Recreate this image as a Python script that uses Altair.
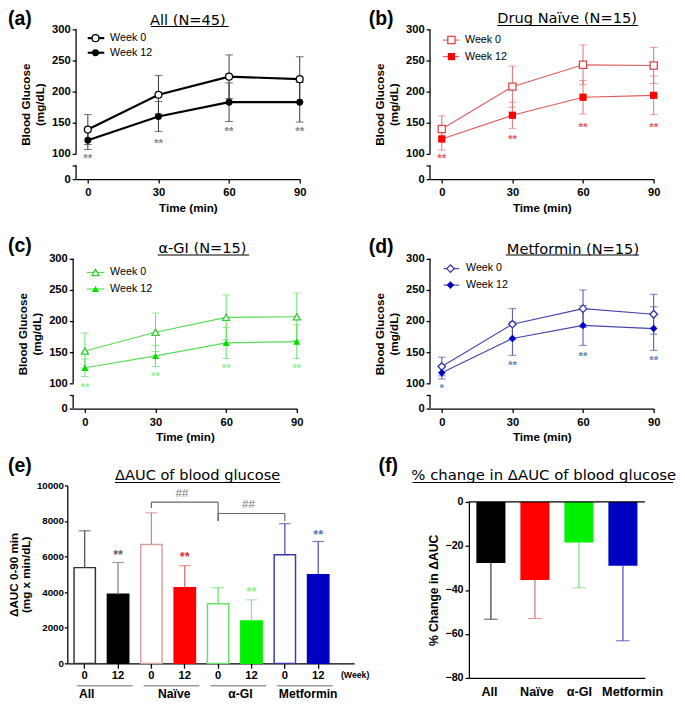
import altair as alt
import pandas as pd

FONT = "Liberation Sans"
TFONT = "DejaVu Sans"

# ---------------- data: panels (a)-(d) ----------------
TIMES = [0, 30, 60, 90]
SERIES = ["Week  0", "Week 12"]

A_W0 = [139, 195, 224, 220]
A_W0_SD = [24, 31, 35, 36]
A_W12 = [122, 160, 183, 183]
A_W12_SD = [15, 24, 31, 32]
A_STARS = ["**", "**", "**", "**"]
A_STAR_Y = [95, 122, 141, 141]

B_W0 = [140, 208, 243, 242]
B_W0_SD = [21, 33, 32, 29]
B_W12 = [124, 162, 191, 194]
B_W12_SD = [18, 21, 27, 31]
B_STARS = ["**", "**", "**", "**"]
B_STAR_Y = [95, 129, 148, 148]

C_W0 = [152, 182, 206, 207]
C_W0_SD = [29, 31, 36, 38]
C_W12 = [125, 144, 165, 167]
C_W12_SD = [14, 17, 25, 27]
C_STARS = ["**", "**", "**", "**"]
C_STAR_Y = [95, 116, 129, 129]

D_W0 = [127, 195, 220, 211]
D_W0_SD = [15, 25, 30, 32]
D_W12 = [117, 172, 193, 188]
D_W12_SD = [10, 27, 32, 35]
D_STARS = ["*", "**", "**", "**"]
D_STAR_Y = [94, 134, 148, 142]

BREAK_LO = [0, 100]
BREAK_HI = [54, 300]
Y_TICKS = [0, 54, 100, 150, 200, 250, 300]

# ---------------- data: panel (e) ----------------
GROUPS = ["All", "Naïve", "α-GI", "Metformin"]
WEEKS = ["0", "12"]
E_W0 = [5380, 6680, 3350, 6100]
E_W0_SD = [2070, 1780, 900, 1750]
E_W12 = [3880, 4250, 2380, 4980]
E_W12_SD = [1790, 1240, 1190, 1870]
E_STAR_Y = [6230, 6120, 4190, 7360]
E_TICKS = [0, 2000, 4000, 6000, 8000, 10000]
BR_FROM = ["Naïve", "α-GI"]
BR_TO = ["α-GI", "Metformin"]
BR_Y = [9060, 8420]
BR_LEFT_END = [8730, 8000]
BR_RIGHT_END = [8000, 8000]
BR_TEXT = ["##", "##"]
BR_TEXT_AT = ["Naïve", "α-GI"]
BR_TEXT_Y = [9590, 8970]

# ---------------- data: panel (f) ----------------
F_MEAN = [-27.7, -35.5, -18.4, -29.0]
F_SD = [25.6, 17.5, 20.6, 34.1]
F_TICKS = [0, -20, -40, -60, -80]

# ---------------- styles ----------------
E_FILL12 = ["#000000", "#ff0000", "#00f000", "#0000c0"]
E_EDGE0 = ["#333333", "#d9a0a0", "#66e066", "#3a3aa8"]
E_ERR0 = ["#444444", "#d08080", "#66dd66", "#4040aa"]
E_ERR12 = ["#777777", "#d86060", "#88e088", "#4444aa"]
E_STARC = ["#666666", "#e03030", "#90ee90", "#5577bb"]
F_ERR = ["#333333", "#d07070", "#77e077", "#4444aa"]
E_GROUP_DX = [2, 23.5, 23, 24]
F_LABEL_DX = [-1.5, 2, 0.5, 10]


def ptext(s, x, y, size, weight="normal", font=FONT, align="left",
          baseline="top", color="black"):
    return alt.Chart(pd.DataFrame({"s": [s]})).mark_text(
        align=align, baseline=baseline, font=font, fontSize=size,
        fontWeight=weight, color=color
    ).encode(x=alt.value(x), y=alt.value(y), text="s:N")


def prule(x1, x2, y, color="black", width=1.2):
    return alt.Chart(pd.DataFrame({"a": [0]})).mark_rule(
        color=color, strokeWidth=width
    ).encode(x=alt.value(x1), x2=alt.value(x2), y=alt.value(y))


def line_panel(P):
    sh = P.get("sh", 0)
    W, H = 230 - sh, 154
    xs = alt.Scale(domain=[-5, 90], range=[-sh, W], nice=False, zero=False)
    ys = alt.Scale(domain=[0, 100, 300], range=[H, H - 26, 0], nice=False, zero=False)
    xax = alt.Axis(values=TIMES, title="Time (min)", grid=False, tickSize=4,
                   tickWidth=1.3, tickColor="black", domainColor="black",
                   domainWidth=1.3, labelFont=FONT, labelFontSize=11.5,
                   labelFontWeight="bold", labelColor="black", labelPadding=4,
                   labelFlush=False, titleFont=FONT, titleFontSize=12,
                   titleFontWeight="bold", titleColor="black", titlePadding=4.5)
    yax = alt.Axis(values=Y_TICKS, labelExpr="datum.value == 54 ? '' : datum.label",
                   title=["Blood Glucose", "(mg/dL)"], grid=False, domain=False,
                   offset=sh,
                   tickSize=4, tickWidth=1.3, tickColor="black", labelFont=FONT,
                   labelFontSize=11.5, labelFontWeight="bold", labelColor="black",
                   labelPadding=2, labelOverlap=False, labelFlush=False,
                   titleFont=FONT, titleFontSize=12, titleFontWeight="bold",
                   titleColor="black", titleLineHeight=15, titlePadding=5)

    def X(f):
        return alt.X(f"{f}:Q", scale=xs, axis=xax)

    def Y(f):
        return alt.Y(f"{f}:Q", scale=ys, axis=yax)

    brk = pd.DataFrame({"lo": BREAK_LO, "hi": BREAK_HI})
    axis_line = alt.Chart(brk).mark_rule(color="black", strokeWidth=1.3).encode(
        x=alt.value(-sh), y=Y("lo"), y2="hi:Q")

    rows = []
    for s, m, sd in ((0, P["w0"], P["w0sd"]), (1, P["w12"], P["w12sd"])):
        for t, v, e in zip(TIMES, m, sd):
            rows.append({"s": s, "t": t, "v": v, "lo": v - e, "hi": v + e})
    df = pd.DataFrame(rows)
    caps = pd.concat([df[["t", "lo"]].rename(columns={"lo": "v"}),
                      df[["t", "hi"]].rename(columns={"hi": "v"})])

    err = alt.Chart(df).mark_rule(color=P["err"], strokeWidth=1).encode(
        x=X("t"), y=Y("lo"), y2="hi:Q")
    cap = alt.Chart(caps).mark_tick(orient="horizontal", size=8, thickness=1,
                                    color=P["err"]).encode(x=X("t"), y=Y("v"))
    d0 = df[df.s == 0]
    d1 = df[df.s == 1]
    l0 = alt.Chart(d0).mark_line(color=P["line"], strokeWidth=P["lw"]).encode(x=X("t"), y=Y("v"))
    l1 = alt.Chart(d1).mark_line(color=P["line"], strokeWidth=P["lw"]).encode(x=X("t"), y=Y("v"))
    p0 = alt.Chart(d0).mark_point(shape=P["shape"], filled=True, fill="white",
                                  stroke=P["mk0"], strokeWidth=1.3, size=P["size"],
                                  opacity=1).encode(x=X("t"), y=Y("v"))
    p1 = alt.Chart(d1).mark_point(shape=P["shape"], filled=True, color=P["mk12"],
                                  size=P["size"], opacity=1).encode(x=X("t"), y=Y("v"))
    sdf = pd.DataFrame({"t": TIMES, "v": P["stary"], "s": P["stars"]})
    stars = alt.Chart(sdf).mark_text(font=FONT, fontSize=12, fontWeight="bold",
                                     color=P["star"], baseline="middle", dy=3).encode(
        x=X("t"), y=Y("v"), text="s:N")

    L = P["leg"]
    legend = []
    for i, yy in enumerate(L["ys"]):
        legend.append(prule(L["x1"] - sh, L["x2"] - sh, yy, P["line"], max(1.0, P["lw"])))
        mk = alt.Chart(pd.DataFrame({"a": [0]}))
        if i == 0:
            mk = mk.mark_point(shape=P["shape"], filled=True, fill="white",
                               stroke=P["mk0"], strokeWidth=1.3, size=P["size"], opacity=1)
        else:
            mk = mk.mark_point(shape=P["shape"], filled=True, color=P["mk12"],
                               size=P["size"], opacity=1)
        legend.append(mk.encode(x=alt.value(L["m"] - sh), y=alt.value(yy)))
        legend.append(ptext(SERIES[i], L["tx"] - sh, yy, 11, baseline="middle"))

    T = P["ttl"]
    deco = [
        ptext(P["title"], T["cx"] - sh, T["by"], 15, font=TFONT, align="center",
              baseline="alphabetic"),
        prule(T["u1"] - sh, T["u2"] - sh, T["uy"], "black", 1.2),
        ptext(P["lab"], P["lx"], P["ly"], 20, "bold"),
    ]
    return alt.layer(axis_line, err, cap, l0, l1, p0, p1, stars, *legend, *deco).properties(
        width=W, height=H)


PA = dict(w0=A_W0, w0sd=A_W0_SD, w12=A_W12, w12sd=A_W12_SD, stars=A_STARS, stary=A_STAR_Y,
          shape="circle", line="#000000", lw=2.2, err="#333333", mk0="#000000",
          mk12="#000000", star="#8a8a8a", size=50,
          leg=dict(x1=12, x2=29, m=20, tx=35, ys=[9, 24]),
          ttl=dict(cx=115, by=-5, u1=77, u2=157, uy=-3),
          title="All (N=45)", lab="(a)", lx=-70, ly=-20)
PB = dict(w0=B_W0, w0sd=B_W0_SD, w12=B_W12, w12sd=B_W12_SD, stars=B_STARS, stary=B_STAR_Y,
          shape="square", line="#dd5a5a", lw=1.1, err="#e07070", mk0="#dd4444",
          mk12="#ff0000", star="#e06060", size=55,
          leg=dict(x1=13, x2=30, m=22, tx=36, ys=[11, 28]),
          ttl=dict(cx=141, by=-7, u1=69, u2=214, uy=-4),
          title="Drug Naïve (N=15)", lab="(b)", lx=-63, ly=-20)
PC = dict(w0=C_W0, w0sd=C_W0_SD, w12=C_W12, w12sd=C_W12_SD, stars=C_STARS, stary=C_STAR_Y,
          shape="triangle-up", line="#55dd55", lw=1.2, err="#66dd66", mk0="#33cc33",
          mk12="#00e000", star="#99ee99", size=55, sh=3,
          leg=dict(x1=14, x2=32, m=23, tx=38, ys=[14, 31]),
          ttl=dict(cx=133, by=-6, u1=87, u2=181, uy=-4),
          title="α-GI (N=15)", lab="(c)", lx=-70, ly=-23)
PD = dict(w0=D_W0, w0sd=D_W0_SD, w12=D_W12, w12sd=D_W12_SD, stars=D_STARS, stary=D_STAR_Y,
          shape="diamond", line="#4646aa", lw=1.2, err="#4a4aaa", mk0="#3333aa",
          mk12="#0000cc", star="#6688bb", size=60,
          leg=dict(x1=14, x2=30, m=21, tx=37, ys=[10, 27]),
          ttl=dict(cx=147, by=-5.5, u1=78, u2=215, uy=-4),
          title="Metformin (N=15)", lab="(d)", lx=-63, ly=-22)


def e_panel():
    sh = 9
    W, H = 295 - sh, 183
    keys = [f"{g}|{w}" for g in GROUPS for w in WEEKS]
    rows = []
    for i, g in enumerate(GROUPS):
        rows.append({"k": f"{g}|0", "m": E_W0[i], "hi": E_W0[i] + E_W0_SD[i],
                     "fill": "#ffffff", "edge": E_EDGE0[i], "err": E_ERR0[i]})
        rows.append({"k": f"{g}|12", "m": E_W12[i], "hi": E_W12[i] + E_W12_SD[i],
                     "fill": E_FILL12[i], "edge": E_FILL12[i], "err": E_ERR12[i]})
    df = pd.DataFrame(rows)
    xs = alt.Scale(domain=keys, range=[-sh, W], paddingInner=0.36, paddingOuter=0.48,
                   align=0.21)
    xax = alt.Axis(title=None, labelExpr="split(datum.label, '|')[1]", labelAngle=0,
                   tickSize=5, tickWidth=1.3, tickColor="black", domainColor="black",
                   domainWidth=1.3, labelFont=FONT, labelFontSize=11.5,
                   labelFontWeight="bold", labelColor="black", labelPadding=2)
    ys = alt.Scale(domain=[0, 10000], nice=False)
    yax = alt.Axis(values=E_TICKS, format="d", title=["ΔAUC 0-90 min", "(mg x min/dL)"],
                   grid=False, offset=sh,
                   tickSize=3, tickWidth=1.3, tickColor="black", domainColor="black",
                   domainWidth=1.3, labelFont=FONT, labelFontSize=10,
                   labelFontWeight="bold", labelColor="black", labelPadding=1,
                   titleFont=FONT, titleFontSize=12, titleFontWeight="bold",
                   titleColor="black", titleLineHeight=12, titlePadding=4)

    def X(f):
        return alt.X(f"{f}:N", scale=xs, axis=xax)

    def Y(f):
        return alt.Y(f"{f}:Q", scale=ys, axis=yax)

    err = alt.Chart(df).mark_rule(strokeWidth=1.2).encode(
        x=X("k"), y=Y("m"), y2="hi:Q", color=alt.Color("err:N", scale=None))
    cap = alt.Chart(df).mark_tick(orient="horizontal", size=12, thickness=1.2).encode(
        x=X("k"), y=Y("hi"), color=alt.Color("err:N", scale=None))
    bars = alt.Chart(df).mark_bar(strokeWidth=1.5).encode(
        x=X("k"), y=Y("m"), fill=alt.Fill("fill:N", scale=None),
        stroke=alt.Stroke("edge:N", scale=None))
    sdf = pd.DataFrame({"k": [f"{g}|12" for g in GROUPS], "v": E_STAR_Y,
                        "s": ["**"] * 4, "c": E_STARC})
    stars = alt.Chart(sdf).mark_text(font=FONT, fontSize=13, fontWeight="bold",
                                     baseline="middle", dy=3).encode(
        x=X("k"), y=Y("v"), text="s:N", color=alt.Color("c:N", scale=None))

    hb = pd.DataFrame({"a": [f"{g}|0" for g in BR_FROM], "b": [f"{g}|0" for g in BR_TO],
                       "y": BR_Y})
    hbr = alt.Chart(hb).mark_rule(color="#666666", strokeWidth=1.2).encode(
        x=X("a"), x2="b:N", y=Y("y"))
    vb = pd.DataFrame({
        "k": [f"{g}|0" for g in BR_FROM] + [f"{g}|0" for g in BR_TO],
        "y1": BR_Y + BR_Y,
        "y2": BR_LEFT_END + BR_RIGHT_END})
    vbr = alt.Chart(vb).mark_rule(color="#666666", strokeWidth=1.2).encode(
        x=X("k"), y=Y("y1"), y2="y2:Q")
    bt = pd.DataFrame({"k": [f"{g}|12" for g in BR_TEXT_AT], "v": BR_TEXT_Y, "s": BR_TEXT})
    btxt = alt.Chart(bt).mark_text(font=FONT, fontSize=12, color="#777777",
                                   baseline="middle", dx=-3).encode(
        x=X("k"), y=Y("v"), text="s:N")

    ul = pd.DataFrame({"a": [f"{g}|0" for g in GROUPS], "b": [f"{g}|12" for g in GROUPS]})
    underl = alt.Chart(ul).mark_rule(color="#999999", strokeWidth=1.5,
                                     xOffset=-8, x2Offset=15).encode(
        x=X("a"), x2="b:N", y=alt.value(H + 23))
    glabels = []
    for g, dx in zip(GROUPS, E_GROUP_DX):
        glabels.append(alt.Chart(pd.DataFrame({"k": [f"{g}|0"], "s": [g]})).mark_text(
            font=FONT, fontSize=12.5, fontWeight="bold", baseline="middle", dx=dx,
            color="black").encode(x=X("k"), y=alt.value(H + 32), text="s:N"))

    deco = [
        ptext("(Week)", 296 - sh, H + 12, 9, "bold", align="center", baseline="middle"),
        ptext("ΔAUC of blood glucose", 134 - sh, -6, 15, font=TFONT, align="center",
              baseline="alphabetic"),
        prule(49 - sh, 219 - sh, -3, "black", 1.2),
        ptext("(e)", -70, -30, 20, "bold"),
    ]
    return alt.layer(bars, err, cap, stars, hbr, vbr, btxt, underl, *glabels, *deco).properties(
        width=W, height=H)


def f_panel():
    dn = 17
    W, H = 181, 181 + dn
    df = pd.DataFrame({"g": GROUPS, "v": F_MEAN,
                       "lo": [m - s for m, s in zip(F_MEAN, F_SD)],
                       "z": [0] * 4, "fill": E_FILL12, "err": F_ERR})
    xs = alt.Scale(domain=GROUPS, paddingInner=0.34, paddingOuter=0.17)
    xax = alt.Axis(title=None, ticks=False, labels=False, domainColor="black",
                   domainWidth=1.3)
    ys = alt.Scale(domain=[-80, 0], range=[H, dn], nice=False, zero=False)
    yax = alt.Axis(values=F_TICKS, title="% Change in ΔAUC", grid=False, tickSize=4,
                   tickWidth=1.3, tickColor="black", domainColor="black", domainWidth=1.3,
                   labelFont=FONT, labelFontSize=11, labelFontWeight="bold",
                   labelColor="black", labelPadding=2, titleFont=FONT, titleFontSize=12.5,
                   titleFontWeight="bold", titleColor="black", titlePadding=5)

    def X(f):
        return alt.X(f"{f}:N", scale=xs, axis=xax)

    def Y(f):
        return alt.Y(f"{f}:Q", scale=ys, axis=yax)

    err = alt.Chart(df).mark_rule(strokeWidth=1.2).encode(
        x=X("g"), y=Y("v"), y2="lo:Q", color=alt.Color("err:N", scale=None))
    cap = alt.Chart(df).mark_tick(orient="horizontal", size=14, thickness=1.2).encode(
        x=X("g"), y=Y("lo"), color=alt.Color("err:N", scale=None))
    bars = alt.Chart(df).mark_bar().encode(
        x=X("g"), y=Y("v"), y2="z:Q", fill=alt.Fill("fill:N", scale=None))
    top = alt.Chart(pd.DataFrame({"v": [0]})).mark_rule(
        color="black", strokeWidth=1.3).encode(y=Y("v"))
    xl = []
    for g, dx in zip(GROUPS, F_LABEL_DX):
        xl.append(alt.Chart(pd.DataFrame({"g": [g]})).mark_text(
            font=FONT, fontSize=13, fontWeight="bold", baseline="middle", dx=dx,
            color="black").encode(x=X("g"), y=alt.value(H + 15), text="g:N"))
    deco = [
        ptext("% change in ΔAUC of blood glucose", 77, -23 + dn, 15.3, font=TFONT,
              align="center", baseline="alphabetic"),
        prule(-58, 210, -20 + dn, "black", 1.2),
        ptext("(f)", -93, -47 + dn, 20, "bold"),
    ]
    return alt.layer(err, cap, bars, top, *xl, *deco).properties(width=W, height=H)


row1 = alt.hconcat(line_panel(PA), line_panel(PB), spacing=64)
row2 = alt.hconcat(line_panel(PC), line_panel(PD), spacing=67)
row3 = alt.hconcat(e_panel(), f_panel(), spacing=9)
top = alt.vconcat(row1, row2, spacing=24)
chart = alt.vconcat(top, row3, spacing=14).properties(
    padding={"left": 0, "top": -8, "right": 0, "bottom": 0}
).configure_view(stroke=None)

chart.save("out.html", embed_options={"renderer": "svg", "actions": False})
